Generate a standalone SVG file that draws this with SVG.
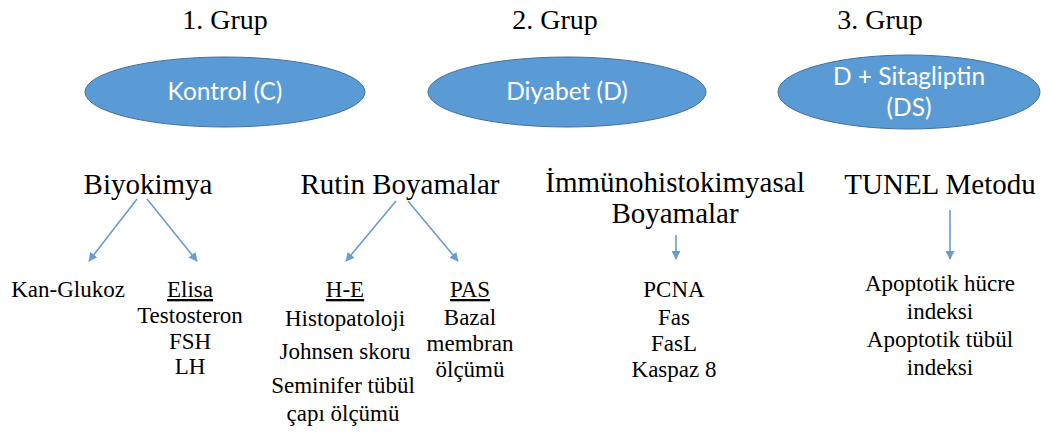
<svg xmlns="http://www.w3.org/2000/svg" width="1053" height="440" viewBox="0 0 1053 440">
<style>
.tx{font-family:'Liberation Serif',serif;fill:#000;text-anchor:middle}
.tg{font-size:28px}
.th{font-size:29px}
.tl{font-size:23px}
.e{fill:#5B9BD5;stroke:#41719C;stroke-width:1}
.w{font-family:Lato,'Open Sans',sans-serif;font-size:24.5px;fill:#fff;text-anchor:middle}
.c{stroke:#6A9CD0;stroke-width:1.6;fill:none}
</style>
<defs>
<marker id="a" viewBox="0 0 10 10" refX="9" refY="5" markerWidth="9" markerHeight="9" orient="auto" markerUnits="userSpaceOnUse"><path d="M0,0 L10,5 L0,10 z" fill="#6A9CD0"/></marker>
</defs>
<rect width="1053" height="440" fill="#fff"/>
<g id="g1"><text class="tx tg" x="225" y="29">1. Grup</text></g>
<g id="g2"><text class="tx tg" x="555" y="29">2. Grup</text></g>
<g id="g3"><text class="tx tg" x="880" y="29">3. Grup</text></g>
<g id="kontrol"><ellipse class="e" cx="225" cy="92" rx="140" ry="35"/><text class="w" x="225" y="100">Kontrol (C)</text></g>
<g id="diyabet"><ellipse class="e" cx="567" cy="92" rx="139" ry="35"/><text class="w" x="567" y="100">Diyabet (D)</text></g>
<g id="ds"><ellipse class="e" cx="909" cy="92" rx="131" ry="37"/><text class="w" x="909" y="85">D + Sitagliptin</text><text class="w" x="909" y="116">(DS)</text></g>
<g id="biyokimya"><text class="tx th" x="148" y="194">Biyokimya</text></g>
<g id="rutin"><text class="tx th" x="400" y="194">Rutin Boyamalar</text></g>
<g id="immuno"><text class="tx th" x="675" y="192">İmmünohistokimyasal</text><text class="tx th" x="675" y="223">Boyamalar</text></g>
<g id="tunel"><text class="tx th" x="940" y="194">TUNEL Metodu</text></g>
<g id="kan"><text class="tx tl" x="68" y="297">Kan-Glukoz</text></g>
<g id="elisa"><text class="tx tl" x="190" y="297" text-decoration="underline">Elisa</text><text class="tx tl" x="190" y="323">Testosteron</text><text class="tx tl" x="190" y="349">FSH</text><text class="tx tl" x="190" y="374">LH</text></g>
<g id="he"><text class="tx tl" x="345" y="297" text-decoration="underline">H-E</text><text class="tx tl" x="345" y="326">Histopatoloji</text><text class="tx tl" x="345" y="359">Johnsen skoru</text><text class="tx tl" x="343" y="393">Seminifer tübül</text><text class="tx tl" x="343" y="421">çapı ölçümü</text></g>
<g id="pas"><text class="tx tl" x="470" y="297" text-decoration="underline">PAS</text><text class="tx tl" x="470" y="325">Bazal</text><text class="tx tl" x="470" y="351">membran</text><text class="tx tl" x="470" y="377">ölçümü</text></g>
<g id="pcna"><text class="tx tl" x="674" y="297">PCNA</text><text class="tx tl" x="674" y="325">Fas</text><text class="tx tl" x="674" y="351">FasL</text><text class="tx tl" x="674" y="377">Kaspaz 8</text></g>
<g id="apop"><text class="tx tl" x="940" y="291">Apoptotik hücre</text><text class="tx tl" x="940" y="319">indeksi</text><text class="tx tl" x="940" y="347">Apoptotik tübül</text><text class="tx tl" x="940" y="375">indeksi</text></g>
<g id="connectors">
<line class="c" x1="137" y1="199" x2="89" y2="261" marker-end="url(#a)"/>
<line class="c" x1="147" y1="199" x2="197" y2="261" marker-end="url(#a)"/>
<line class="c" x1="396" y1="201" x2="346" y2="261" marker-end="url(#a)"/>
<line class="c" x1="408" y1="201" x2="458" y2="261" marker-end="url(#a)"/>
<line class="c" x1="676" y1="235" x2="676" y2="259" marker-end="url(#a)"/>
<line class="c" x1="950" y1="210" x2="950" y2="259" marker-end="url(#a)"/>
</g>
</svg>
